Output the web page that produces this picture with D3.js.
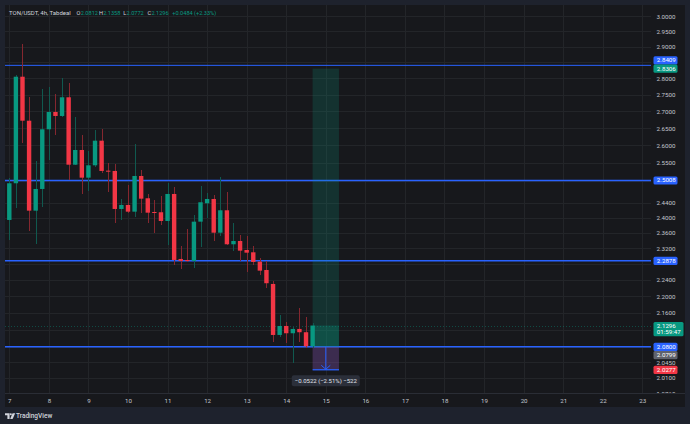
<!DOCTYPE html>
<html><head><meta charset="utf-8">
<script src="https://cdn.jsdelivr.net/npm/d3@7"></script>
<style>
html,body{margin:0;padding:0;background:#1e222d;}
svg{display:block;font-family:Roboto,"Liberation Sans",sans-serif;}
</style>
</head><body>
<svg id="c" width="690" height="424"></svg>
<script>
// ---------------- DATA ----------------
const symbolTitle = "TON/USDT, 4h, Tabdeal";
const firstCandle = new Date(2025, 10, 6, 20, 0); // 4h candles
const candleHours = 4;
const open  = [2.3596,2.3938,2.4931,2.8054,2.6720,2.4186,2.4774,2.6467,2.6979,2.6860,2.7422,2.5449,2.5867,2.5086,2.5432,2.6135,2.5281,2.5273,2.4231,2.4339,2.4159,2.5133,2.4520,2.4150,2.4143,2.3911,2.4637,2.2926,2.2900,2.2875,2.3893,2.4385,2.4501,2.3603,2.4196,2.3302,2.3387,2.3155,2.3096,2.2858,2.2648,2.2300,2.1075,2.1286,2.1115,2.1216,2.1139,2.0812];
const high  = [2.3990,2.5069,2.8107,2.9090,2.7422,2.5545,2.7666,2.7746,2.7513,2.8005,2.7869,2.6821,2.6292,2.5839,2.6446,2.6467,2.5489,2.5469,2.4509,2.4884,2.6040,2.5301,2.4637,2.4474,2.4582,2.4947,2.4820,2.3266,2.3693,2.4070,2.4856,2.4672,2.4610,2.5113,2.4683,2.3851,2.3551,2.3517,2.3258,2.2959,2.2875,2.2374,2.1547,2.1388,2.1270,2.1708,2.1492,2.1358];
const low   = [2.3480,2.3414,2.4250,2.6060,2.3656,2.3311,2.4293,2.5582,2.6300,2.6821,2.5022,2.5430,2.4637,2.4727,2.5393,2.5225,2.4700,2.3851,2.3938,2.4116,2.4026,2.4132,2.3867,2.3588,2.3806,2.3285,2.2774,2.2673,2.2858,2.2691,2.3240,2.3999,2.3387,2.3517,2.3285,2.3130,2.2883,2.2606,2.2774,2.2523,2.2194,2.0919,2.1036,2.0896,2.0439,2.0919,2.0767,2.0772];
const close = [2.3938,2.4931,2.8054,2.6720,2.4186,2.4774,2.6467,2.6979,2.6860,2.7422,2.5449,2.5867,2.5086,2.5432,2.6135,2.5273,2.5270,2.4231,2.4339,2.4159,2.5133,2.4509,2.4132,2.4143,2.3911,2.4637,2.2901,2.2875,2.2893,2.3893,2.4412,2.4501,2.3603,2.4196,2.3302,2.3387,2.3138,2.3086,2.2850,2.2631,2.2318,2.1075,2.1286,2.1115,2.1216,2.1139,2.0812,2.1296];

const dayTicks = [7,8,9,10,11,12,13,14,15,16,17,18,19,20,21,22,23];
const priceTicks = [3.0,2.95,2.9,2.85,2.8,2.75,2.7,2.65,2.6,2.55,2.5,2.44,2.4,2.36,2.32,2.28,2.24,2.2,2.16,2.12,2.08,2.045,2.01,1.976];
const levelPrices = [2.8409, 2.5008, 2.2878, 2.0800];
const levelWidths = [1, 1.5, 1.5, 1.5];

const headerLabels = ["O","H","L","C"];
const headerValues = ["2.0812","2.1358","2.0772","2.1296"];
const headerChange = "+0.0484 (+2.33%)";

// long position tool + ruler
const posStart = new Date(2025, 10, 14, 16, 0);
const posEnd   = new Date(2025, 10, 15, 8, 0);
const posEntry = 2.0800, posTarget = 2.8306, posStop = 2.0277, lastPrice = 2.1296;
const rulerFrom = 2.0800, rulerTo = 2.0278;
const rulerText = "\u22120.0522 (\u22122.51%) \u2212522";
const countdown = "01:59:47";

// price-scale labels: [price, text, kind], in placement priority
const scaleLabels = [
  [2.1296, "2.1296", "last"],
  [2.8306, "2.8306", "green"],
  [2.0800, "2.0800", "blue"],
  [2.5008, "2.5008", "blue"],
  [2.2878, "2.2878", "blue"],
  [2.0277, "2.0277", "red"],
  [2.8409, "2.8409", "blue"],
  [2.0799, "2.0799", "gray"]
];

// ---------------- LAYOUT ----------------
const W = 690, H = 424;
const PL = 5, PR = 651, PT = 5, PB = 393, AR = 685, TB = 407;
const UP = "#089981", DN = "#f23645", BLUE = "#2962ff";
const UPW = "#10594f", DNW = "#85272f";
const BG = "#17181c", GRID = "#232529", TXT = "#c3c6ce";
const kindFill = {last: UP, green: UP, blue: BLUE, red: DN, gray: "#5f626c"};
const FS = 6.2;

const svg = d3.select("#c");
svg.append("rect").attr("width", W).attr("height", H).attr("fill", "#1e222d");
svg.append("rect").attr("x", PL).attr("y", PT).attr("width", AR - PL).attr("height", TB - PT).attr("fill", BG);

const times = open.map((_, i) => new Date(firstCandle.getTime() + i * candleHours * 3600e3));
const x = d3.scaleTime()
  .domain([new Date(2025, 10, dayTicks[0]), new Date(2025, 10, dayTicks[dayTicks.length - 1])])
  .range([9.3, 642.3]);
const y = d3.scaleLog().domain([1.9763, 3.0373]).range([PB, PT]);

const defs = svg.append("defs");
defs.append("clipPath").attr("id", "plot").append("rect")
  .attr("x", PL).attr("y", PT).attr("width", PR - PL).attr("height", PB - PT);
defs.append("clipPath").attr("id", "axis").append("rect")
  .attr("x", PR).attr("y", PT).attr("width", AR - PR).attr("height", PB - PT);

const plot = svg.append("g").attr("clip-path", "url(#plot)");

// grid
plot.append("g").selectAll("line").data(priceTicks).join("line")
  .attr("x1", PL).attr("x2", PR)
  .attr("y1", d => Math.round(y(d)) + 0.5).attr("y2", d => Math.round(y(d)) + 0.5)
  .attr("stroke", GRID).attr("stroke-width", 1);
plot.append("g").selectAll("line").data(dayTicks).join("line")
  .attr("y1", PT).attr("y2", PB)
  .attr("x1", d => Math.round(x(new Date(2025, 10, d))) + 0.5)
  .attr("x2", d => Math.round(x(new Date(2025, 10, d))) + 0.5)
  .attr("stroke", GRID).attr("stroke-width", 1);

// horizontal level lines
plot.append("g").selectAll("line").data(levelPrices).join("line")
  .attr("x1", PL).attr("x2", PR)
  .attr("y1", d => y(d)).attr("y2", d => y(d))
  .attr("stroke", BLUE).attr("stroke-width", (d, i) => levelWidths[i]);

// position tool
const px0 = x(posStart), px1 = x(posEnd);
plot.append("rect").attr("x", px0).attr("width", px1 - px0)
  .attr("y", y(posTarget)).attr("height", y(posEntry) - y(posTarget))
  .attr("fill", "rgba(8,153,129,0.2)");
plot.append("rect").attr("x", px0).attr("width", px1 - px0)
  .attr("y", y(lastPrice)).attr("height", y(posEntry) - y(lastPrice))
  .attr("fill", "rgba(8,153,129,0.28)");
plot.append("rect").attr("x", px0).attr("width", px1 - px0)
  .attr("y", y(posEntry)).attr("height", y(posStop) - y(posEntry))
  .attr("fill", "rgba(242,54,69,0.2)");
plot.append("rect").attr("x", px0).attr("width", px1 - px0)
  .attr("y", y(rulerFrom)).attr("height", y(rulerTo) - y(rulerFrom))
  .attr("fill", "rgba(41,98,255,0.2)");

// current price dotted line
plot.append("line").attr("x1", PL).attr("x2", PR)
  .attr("y1", Math.round(y(lastPrice)) + 0.5).attr("y2", Math.round(y(lastPrice)) + 0.5)
  .attr("stroke", UP).attr("stroke-opacity", 0.4).attr("stroke-dasharray", "1,2");

// candles
const cg = plot.append("g");
const idx = d3.range(open.length);
cg.selectAll("line").data(idx).join("line")
  .attr("x1", i => Math.round(x(times[i])) + 0.5).attr("x2", i => Math.round(x(times[i])) + 0.5)
  .attr("y1", i => y(high[i])).attr("y2", i => y(low[i]))
  .attr("stroke", i => close[i] >= open[i] ? UPW : DNW).attr("stroke-width", 1)
  .attr("shape-rendering", "crispEdges");
cg.selectAll("rect").data(idx).join("rect")
  .attr("x", i => x(times[i]) - 2.2).attr("width", 4.4)
  .attr("y", i => y(Math.max(open[i], close[i])))
  .attr("height", i => Math.max(1, Math.abs(y(open[i]) - y(close[i]))))
  .attr("fill", i => close[i] >= open[i] ? UP : DN);

// ruler lines
const rx = (px0 + px1) / 2, ry0 = y(rulerFrom), ry1 = y(rulerTo);
plot.append("line").attr("x1", rx).attr("x2", rx).attr("y1", ry0).attr("y2", ry1)
  .attr("stroke", BLUE).attr("stroke-width", 1);
plot.append("path").attr("d", `M${rx - 4.5},${ry1 - 4.5}L${rx},${ry1 - 0.5}L${rx + 4.5},${ry1 - 4.5}`)
  .attr("fill", "none").attr("stroke", BLUE).attr("stroke-width", 1);
plot.append("line").attr("x1", px0).attr("x2", px1).attr("y1", ry1).attr("y2", ry1)
  .attr("stroke", BLUE).attr("stroke-width", 1.3);

// ruler label
const rl = plot.append("g");
rl.append("rect").attr("x", rx - 34).attr("y", ry1 + 5.5).attr("width", 68).attr("height", 11)
  .attr("rx", 2).attr("fill", "#2b2f3a");
rl.append("text").attr("x", rx).attr("y", ry1 + 11).attr("text-anchor", "middle")
  .attr("dominant-baseline", "central").attr("font-size", 6).attr("fill", "#e0e3eb").text(rulerText);

// time axis strip
svg.append("line").attr("x1", PL).attr("x2", AR).attr("y1", PB + 0.5).attr("y2", PB + 0.5)
  .attr("stroke", "#2a2d35");
const xAxis = d3.axisBottom(x)
  .tickValues(dayTicks.map(d => new Date(2025, 10, d)))
  .tickFormat(d3.timeFormat("%-d")).tickSize(0).tickPadding(0);
const xg = svg.append("g").attr("transform", `translate(0,${PB})`).call(xAxis);
xg.select(".domain").remove();
xg.selectAll("text").attr("y", 7.7).attr("dy", null).attr("dominant-baseline", "central")
  .attr("font-size", FS).attr("fill", TXT).attr("font-family", "Roboto,sans-serif");

// price-scale label placement (collision resolve)
const placed = [];
scaleLabels.forEach(([p, t, kind]) => {
  const hgt = kind === "last" ? 14.4 : 8.2;
  const up = kind === "last" ? 3.6 : 4.1;
  const y0 = y(p);
  let top = y0 - up;
  let moved = true, guard = 0;
  while (moved && guard++ < 20) {
    moved = false;
    for (const q of placed) {
      if (top < q.top + q.h - 0.01 && top + hgt > q.top + 0.01) {
        top = (y0 < q.y0) ? q.top - hgt : q.top + q.h;
        moved = true;
      }
    }
  }
  placed.push({p, t, kind, top, h: hgt, y0});
});

// price axis ticks (hidden when under a label)
const visTicks = priceTicks.filter(v => {
  const ty = y(v);
  return !placed.some(q => ty > q.top - 2 && ty < q.top + q.h + 2);
});
const yAxis = d3.axisRight(y).tickValues(visTicks).tickFormat(d3.format(".4f")).tickSize(0).tickPadding(0);
const yg = svg.append("g").attr("clip-path", "url(#axis)").append("g")
  .attr("transform", `translate(656.5,0)`).call(yAxis);
yg.select(".domain").remove();
yg.selectAll("text").attr("x", 0).attr("dy", null).attr("dominant-baseline", "central")
  .attr("font-size", FS).attr("fill", TXT).attr("font-family", "Roboto,sans-serif");

// price labels
const lg = svg.append("g");
placed.slice().reverse().forEach(q => {
  const w = q.kind === "last" ? 30 : 24;
  lg.append("rect").attr("x", 653.5).attr("y", q.top).attr("width", w).attr("height", q.h)
    .attr("rx", 1.5).attr("fill", kindFill[q.kind]);
  lg.append("text").attr("x", 656.8).attr("y", q.kind === "last" ? q.top + 3.7 : q.top + q.h / 2)
    .attr("dominant-baseline", "central").attr("font-size", FS).attr("fill", "#ffffff").text(q.t);
  if (q.kind === "last") {
    lg.append("text").attr("x", 656.8).attr("y", q.top + 10.4)
      .attr("dominant-baseline", "central").attr("font-size", FS).attr("fill", "#ffffff").text(countdown);
  }
});

// header
const hy = 12.7;
const hdr = svg.append("g").attr("font-size", 5.6);
hdr.append("text").attr("x", 9).attr("y", hy).attr("dominant-baseline", "central")
  .attr("font-size", 6).attr("fill", "#d1d4dc").text(symbolTitle);
const hx = [76.6, 98.9, 123.2, 147.5];
headerLabels.forEach((l, i) => {
  const a = hdr.append("text").attr("x", hx[i]).attr("y", hy).attr("dominant-baseline", "central")
    .attr("fill", "#d1d4dc").text(l);
  hdr.append("text").attr("x", hx[i] + a.node().getComputedTextLength() + 0.3).attr("y", hy)
    .attr("dominant-baseline", "central").attr("fill", UP).text(headerValues[i]);
});
hdr.append("text").attr("x", 172.3).attr("y", hy).attr("dominant-baseline", "central")
  .attr("fill", UP).text(headerChange);

// TradingView logo
const logo = svg.append("g").attr("fill", "#d1d4dc");
logo.append("path").attr("d", "M5,413.2h4.6v5.8h-2.2v-3.7h-2.4z");
logo.append("circle").attr("cx", 10.8).attr("cy", 414.3).attr("r", 1.05);
logo.append("path").attr("d", "M12.6,413.2h2.6l-2.6,5.8h-2.5z");
logo.append("text").attr("x", 16).attr("y", 416.2).attr("dominant-baseline", "central")
  .attr("font-size", 6.5).attr("font-weight", 500).text("TradingView");
</script>
</body></html>
